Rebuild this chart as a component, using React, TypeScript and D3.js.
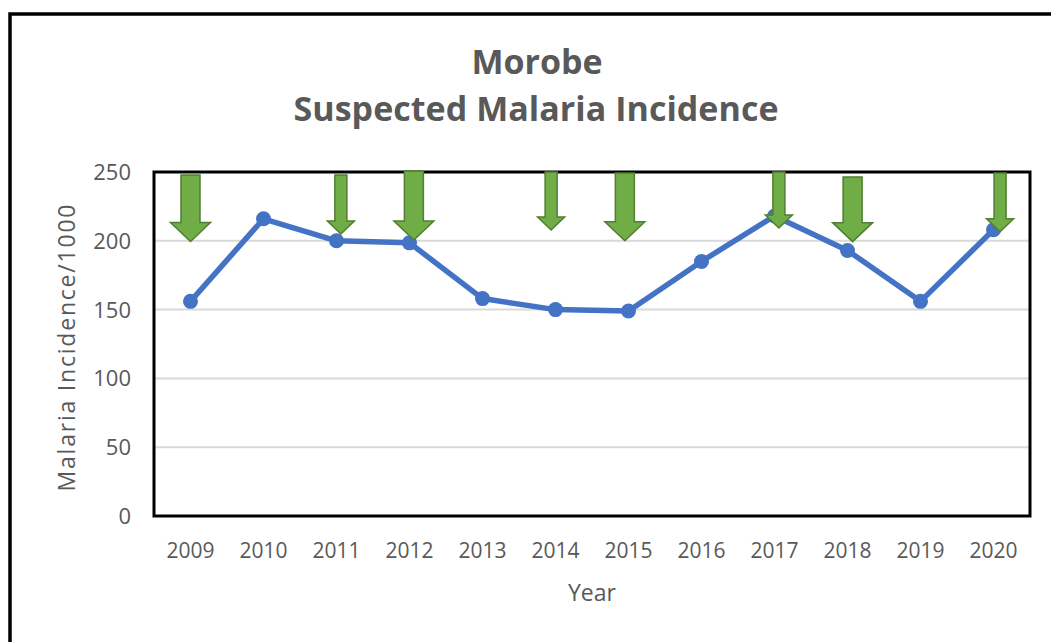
import * as d3 from 'd3'

const WIDTH = 1051
const HEIGHT = 642
const PLOT = { left: 154, top: 172, right: 1030, bottom: 516 }

// series
const years = [2009, 2010, 2011, 2012, 2013, 2014, 2015, 2016, 2017, 2018, 2019, 2020]
const incidence = [156, 216, 200, 198.5, 158, 150, 149, 185, 218, 193, 156, 208]
const yTicks = [0, 50, 100, 150, 200, 250]

// intervention arrows, in data units: x = year, from top value down to tip value
const arrowYears = [2009.0, 2011.06, 2012.06, 2013.94, 2014.95, 2017.06, 2018.07, 2020.09]
const arrowTops = [247.8, 247.8, 250.7, 250, 249.3, 250, 246.4, 249.3]
const arrowTips = [199.5, 205, 200.6, 207.8, 200, 209.3, 199.4, 206.6]
const arrowKinds = ['big', 'small', 'big', 'small', 'big', 'small', 'big', 'small']

const ARROW_STYLE: Record<string, { shaft: number; head: number; headLen: number }> = {
  big: { shaft: 19, head: 40, headLen: 19 },
  small: { shaft: 12, head: 27, headLen: 13 },
}

const GREY = '#595959'
const FONT = "'Open Sans', 'DejaVu Sans', sans-serif"

export default function App() {
  const xScale = d3.scaleLinear().domain([2008.5, 2020.5]).range([PLOT.left, PLOT.right])
  const yScale = d3.scaleLinear().domain([0, 250]).range([PLOT.bottom, PLOT.top])

  const line = d3
    .line<number>()
    .x((_, i) => xScale(years[i]))
    .y((d) => yScale(d))

  // arrow outline: shaft then triangular head
  const arrowPath = (i: number) => {
    const s = ARROW_STYLE[arrowKinds[i]]
    const cx = xScale(arrowYears[i])
    const top = yScale(arrowTops[i])
    const tip = yScale(arrowTips[i])
    const hs = tip - s.headLen
    const p = d3.path()
    p.moveTo(cx - s.shaft / 2, top)
    p.lineTo(cx + s.shaft / 2, top)
    p.lineTo(cx + s.shaft / 2, hs)
    p.lineTo(cx + s.head / 2, hs)
    p.lineTo(cx, tip)
    p.lineTo(cx - s.head / 2, hs)
    p.lineTo(cx - s.shaft / 2, hs)
    p.closePath()
    return p.toString()
  }

  return (
    <svg
      width={WIDTH}
      height={HEIGHT}
      style={{ position: 'absolute', left: 0, top: 0, background: 'white' }}
      fontFamily={FONT}
    >
      {/* outer chart border */}
      <rect x={10} y={14} width={1100} height={700} fill="white" stroke="black" strokeWidth={3.5} />

      {/* title */}
      <text x={537} y={74} textAnchor="middle" fontSize={34} fontWeight={700} fill={GREY}>
        Morobe
      </text>
      <text
        x={536}
        y={121}
        textAnchor="middle"
        fontSize={34}
        fontWeight={700}
        fill={GREY}
        textLength={485}
      >
        Suspected Malaria Incidence
      </text>

      {/* gridlines */}
      {yTicks.slice(1, -1).map((t) => (
        <line
          key={t}
          x1={PLOT.left}
          x2={PLOT.right}
          y1={yScale(t)}
          y2={yScale(t)}
          stroke="#d9d9d9"
          strokeWidth={2}
        />
      ))}

      {/* y tick labels */}
      {yTicks.map((t) => (
        <text key={t} x={131} y={yScale(t)} dy="0.36em" textAnchor="end" fontSize={22} fill={GREY}>
          {t}
        </text>
      ))}

      {/* x tick labels */}
      {years.map((y) => (
        <text key={y} x={xScale(y)} y={558} textAnchor="middle" fontSize={21} fill={GREY}>
          {y}
        </text>
      ))}

      {/* axis titles */}
      <text
        transform={`translate(75, ${348}) rotate(-90)`}
        textAnchor="middle"
        fontSize={23}
        fill={GREY}
        textLength={287}
      >
        Malaria Incidence/1000
      </text>
      <text x={592} y={601} textAnchor="middle" fontSize={23} fill={GREY}>
        Year
      </text>

      {/* series */}
      <path
        d={line(incidence) ?? ''}
        fill="none"
        stroke="#4472C4"
        strokeWidth={5.5}
        strokeLinejoin="round"
      />
      {incidence.map((v, i) => (
        <circle key={i} cx={xScale(years[i])} cy={yScale(v)} r={7.5} fill="#4472C4" />
      ))}

      {/* plot frame */}
      <rect
        x={PLOT.left}
        y={PLOT.top}
        width={PLOT.right - PLOT.left}
        height={PLOT.bottom - PLOT.top}
        fill="none"
        stroke="black"
        strokeWidth={3}
      />

      {/* arrows */}
      {arrowYears.map((_, i) => (
        <path key={i} d={arrowPath(i)} fill="#70AD47" stroke="#507E32" strokeWidth={1.5} />
      ))}
    </svg>
  )
}
